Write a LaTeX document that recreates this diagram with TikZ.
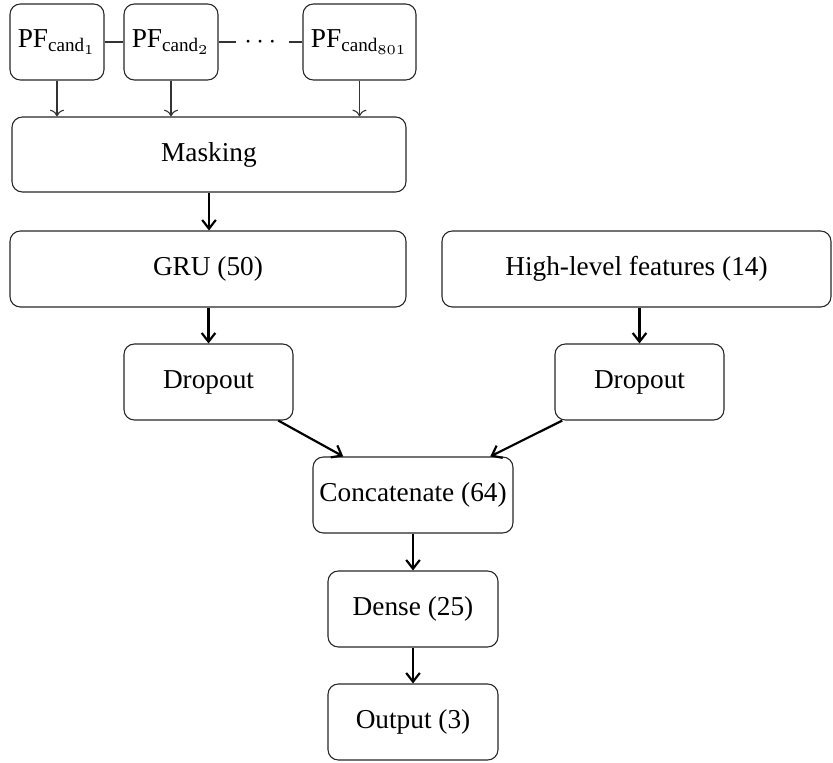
\documentclass[tikz,border=0pt]{standalone}
\usepackage{amsmath}
\usepackage{fontspec}
\setmainfont{Liberation Serif}
\usetikzlibrary{arrows.meta}
\begin{document}
\begin{tikzpicture}[x=0.3663pt,y=-0.3663pt,
  box/.style={draw=black!85,line width=0.4pt,rounded corners=3.8pt,align=center,inner sep=0pt,
    minimum height={76*0.3663pt}},
  thinarr/.style={->,line width=0.4pt,draw=black!80},
  thickarr/.style={-{Straight Barb[length=3.2pt,width=5pt]},line width=0.8pt},
  link/.style={line width=0.4pt,draw=black!80}]
\useasboundingbox (0,0) rectangle (833,762);
\node[box,minimum width={94*0.3663pt}] (p1) at (57,42) {PF$_{\text{cand}_1}$};
\node[box,minimum width={94*0.3663pt}] (p2) at (171,42) {PF$_{\text{cand}_2}$};
\node[inner sep=0pt,minimum width={51*0.3663pt},minimum height=10pt] (dots) at (262.5,42) {$\cdots$};
\node[box,minimum width={113*0.3663pt}] (p3) at (359.5,42) {PF$_{\text{cand}_{801}}$};
\node[box,minimum width={394*0.3663pt},minimum height={75*0.3663pt}] (mask) at (209,154.5) {Masking};
\node[box,minimum width={396*0.3663pt}] (gru) at (208,269) {GRU (50)};
\node[box,minimum width={389*0.3663pt}] (hlf) at (636.5,269) {High-level features (14)};
\node[box,minimum width={169*0.3663pt}] (d1) at (208.5,382) {Dropout};
\node[box,minimum width={169*0.3663pt}] (d2) at (639.5,382) {Dropout};
\node[box,minimum width={200*0.3663pt}] (cat) at (413,495) {Concatenate (64)};
\node[box,minimum width={170*0.3663pt}] (dense) at (413,609) {Dense (25)};
\node[box,minimum width={170*0.3663pt}] (out) at (413,722) {Output (3)};
\draw[link] (p1) -- (p2);
\draw[link] (p2) -- (dots);
\draw[link] (dots) -- (p3);
\draw[thinarr] (p1.south) -- (p1.south |- mask.north);
\draw[thinarr] (p2.south) -- (p2.south |- mask.north);
\draw[thinarr] (p3.south) -- (p3.south |- mask.north);
\draw[thickarr] (mask.south) -- (mask.south |- gru.north);
\draw[thickarr] (d1.north |- gru.south) -- (d1.north);
\draw[thickarr] (hlf.south -| d2.north) -- (d2.north);
\draw[thickarr] (d1) -- (cat);
\draw[thickarr] (d2) -- (cat);
\draw[thickarr] (cat) -- (dense);
\draw[thickarr] (dense) -- (out);
\end{tikzpicture}
\end{document}
